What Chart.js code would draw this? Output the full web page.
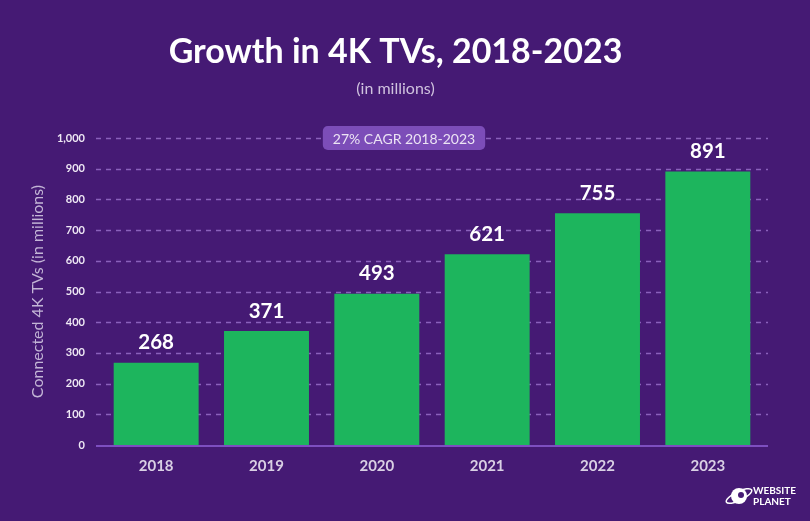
<!DOCTYPE html>
<html>
<head>
<meta charset="utf-8">
<script src="https://cdn.jsdelivr.net/npm/chart.js@4.4.1/dist/chart.umd.min.js"></script>
<style>
html,body{margin:0;padding:0;background:#451a74;}
#wrap{width:810px;height:521px;position:relative;}
</style>
</head>
<body>
<div id="wrap"><canvas id="c" width="810" height="521"></canvas></div>
<script>
const categories = ["2018", "2019", "2020", "2021", "2022", "2023"];
const tvValues = [268, 371, 493, 621, 755, 891];
const yTicks = [0, 100, 200, 300, 400, 500, 600, 700, 800, 900, 1000];
const titleText = "Growth in 4K TVs, 2018-2023";
const subtitleText = "(in millions)";
const yAxisTitle = "Connected 4K TVs (in millions)";
const badgeText = "27% CAGR 2018-2023";

const FONT = "Lato, 'Open Sans', sans-serif";

const gridPlugin = {
  id: 'customGrid',
  beforeDatasetsDraw(chart) {
    const {ctx, chartArea, scales} = chart;
    const y = scales.y;
    ctx.save();
    yTicks.forEach(v => {
      const py = Math.round(y.getPixelForValue(v)) + 0.5;
      if (v === 0) return;
      ctx.strokeStyle = 'rgba(150,110,200,0.85)';
      ctx.lineWidth = 1.5;
      ctx.setLineDash([5, 5]);
      ctx.beginPath();
      ctx.moveTo(chartArea.left - 5, py);
      ctx.lineTo(chartArea.right + 5, py);
      ctx.stroke();
    });
    ctx.restore();
  },
  afterDatasetsDraw(chart) {
    const {ctx, chartArea, scales} = chart;
    const y = scales.y;
    ctx.save();
    const py0 = y.getPixelForValue(0);
    ctx.strokeStyle = '#7d4fc0';
    ctx.lineWidth = 2;
    ctx.setLineDash([]);
    ctx.beginPath();
    ctx.moveTo(chartArea.left - 5, py0 + 1);
    ctx.lineTo(chartArea.right + 5, py0 + 1);
    ctx.stroke();
    const meta = chart.getDatasetMeta(0);
    ctx.fillStyle = '#ffffff';
    ctx.font = "bold 20.5px " + FONT;
    ctx.textAlign = 'center';
    ctx.textBaseline = 'middle';
    meta.data.forEach((bar, i) => {
      ctx.fillText(String(tvValues[i]), bar.x, bar.y - 20);
    });
    const by = y.getPixelForValue(1000);
    ctx.font = "14px " + FONT;
    const tw = ctx.measureText(badgeText).width;
    const bw = tw + 20, bh = 24;
    const bx = 404 - bw / 2;
    ctx.fillStyle = '#7c4db8';
    ctx.beginPath();
    ctx.roundRect(bx, by - bh / 2, bw, bh, 5);
    ctx.fill();
    ctx.fillStyle = '#ece4f4';
    ctx.fillText(badgeText, 404, by + 1);
    ctx.restore();
  },
  afterDraw(chart) {
    const {ctx} = chart;
    ctx.save();
    const cx = 739, cy = 496;
    ctx.fillStyle = '#ffffff';
    ctx.beginPath();
    ctx.arc(cx, cy, 8, 0, Math.PI * 2);
    ctx.fill();
    ctx.strokeStyle = '#ffffff';
    ctx.lineWidth = 1.5;
    ctx.beginPath();
    ctx.ellipse(cx, cy, 14, 4.5, -0.45, 0, Math.PI * 2);
    ctx.stroke();
    ctx.fillStyle = '#451a74';
    ctx.beginPath();
    ctx.arc(cx + 2, cy - 1, 3, 0, Math.PI * 2);
    ctx.fill();
    ctx.fillStyle = '#ffffff';
    ctx.font = "bold 10px " + FONT;
    ctx.textAlign = 'left';
    ctx.textBaseline = 'alphabetic';
    ctx.fillText("WEBSITE", 753, 494);
    ctx.fillText("PLANET", 753, 504.5);
    ctx.restore();
  }
};

new Chart(document.getElementById('c'), {
  type: 'bar',
  data: {
    labels: categories,
    datasets: [{
      data: tvValues,
      backgroundColor: '#1db55d',
      borderWidth: 0,
      categoryPercentage: 1.0,
      barPercentage: 0.77
    }]
  },
  plugins: [gridPlugin],
  options: {
    responsive: false,
    animation: false,
    devicePixelRatio: 1,
    layout: { padding: { left: 28, right: 47, top: 0, bottom: 42 } },
    plugins: {
      legend: { display: false },
      tooltip: { enabled: false },
      title: {
        display: true,
        text: titleText,
        color: '#ffffff',
        font: { family: FONT, size: 34, weight: 'bold', lineHeight: 1.2 },
        padding: { top: 32, bottom: 6.5 }
      },
      subtitle: {
        display: true,
        text: subtitleText,
        color: '#cfc2de',
        font: { family: FONT, size: 16, weight: 'normal', lineHeight: 1.2 },
        padding: { top: 0, bottom: 39.5 }
      }
    },
    scales: {
      x: {
        grid: { display: false },
        border: { display: false },
        ticks: {
          color: '#d9d0e4',
          font: { family: FONT, size: 15, weight: 'bold' },
          padding: 4
        }
      },
      y: {
        min: 0,
        max: 1000,
        afterBuildTicks(scale) { scale.ticks = yTicks.map(v => ({ value: v })); },
        afterFit(scale) { scale.width = 73; },
        grid: { display: false },
        border: { display: false },
        ticks: {
          color: '#eee8f4',
          font: { family: FONT, size: 11, weight: 'bold' },
          padding: 8,
          callback: v => v.toLocaleString('en-US')
        },
        title: {
          display: true,
          text: yAxisTitle,
          color: '#c3b5d6',
          font: { family: FONT, size: 16, weight: 'normal' },
          padding: { top: 0, bottom: 0 }
        }
      }
    }
  }
});
</script>
</body>
</html>
